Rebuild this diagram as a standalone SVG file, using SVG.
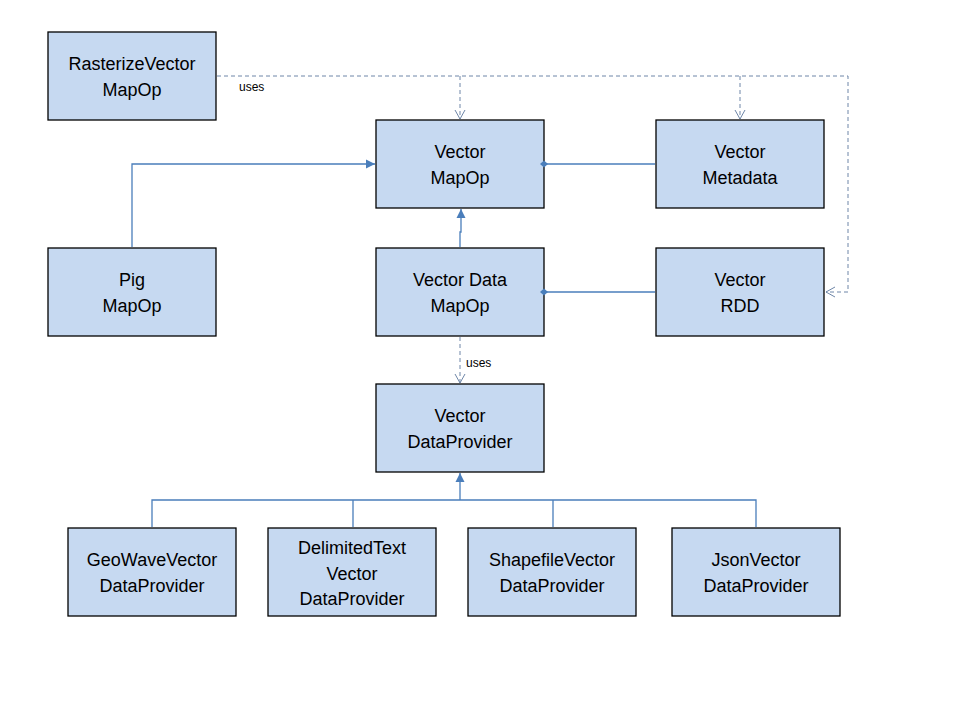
<svg xmlns="http://www.w3.org/2000/svg" width="960" height="720" viewBox="0 0 960 720">
<style>
.box{fill:#C6D9F1;stroke:#000;stroke-width:1.3}
.t{font-family:"Liberation Sans",Arial,sans-serif;font-size:18px;fill:#000;text-anchor:middle}
.s{font-family:"Liberation Sans",Arial,sans-serif;font-size:12px;fill:#000}
.c{fill:none;stroke:#4A7EBB;stroke-width:1.3}
.d{fill:none;stroke:#6E86A8;stroke-width:1;stroke-dasharray:4,3}
</style>
<defs>
<marker id="open" markerWidth="12" markerHeight="12" refX="10" refY="6" orient="auto" markerUnits="userSpaceOnUse">
<path d="M1,1 L10,6 L1,11" fill="none" stroke="#6E86A8" stroke-width="1"/>
</marker>
<marker id="fill" markerWidth="12" markerHeight="12" refX="10" refY="6" orient="auto" markerUnits="userSpaceOnUse">
<path d="M1,1.5 L10,6 L1,10.5 Z" fill="#4A7EBB"/>
</marker>
<marker id="dot" markerWidth="10" markerHeight="10" refX="5" refY="5" orient="auto" markerUnits="userSpaceOnUse">
<path d="M1,5 L5,1.5 L9,5 L5,8.5 Z" fill="#4A7EBB"/>
</marker>
</defs>
<rect width="960" height="720" fill="#fff"/>
<g id="RasterizeVectorMapOp"><rect class="box" x="48" y="32" width="168" height="88"/><text class="t" x="132" y="70">RasterizeVector</text><text class="t" x="132" y="96">MapOp</text></g>
<g id="VectorMapOp"><rect class="box" x="376" y="120" width="168" height="88"/><text class="t" x="460" y="158">Vector</text><text class="t" x="460" y="184">MapOp</text></g>
<g id="VectorMetadata"><rect class="box" x="656" y="120" width="168" height="88"/><text class="t" x="740" y="158">Vector</text><text class="t" x="740" y="184">Metadata</text></g>
<g id="PigMapOp"><rect class="box" x="48" y="248" width="168" height="88"/><text class="t" x="132" y="286">Pig</text><text class="t" x="132" y="312">MapOp</text></g>
<g id="VectorDataMapOp"><rect class="box" x="376" y="248" width="168" height="88"/><text class="t" x="460" y="286">Vector Data</text><text class="t" x="460" y="312">MapOp</text></g>
<g id="VectorRDD"><rect class="box" x="656" y="248" width="168" height="88"/><text class="t" x="740" y="286">Vector</text><text class="t" x="740" y="312">RDD</text></g>
<g id="VectorDataProvider"><rect class="box" x="376" y="384" width="168" height="88"/><text class="t" x="460" y="422">Vector</text><text class="t" x="460" y="448">DataProvider</text></g>
<g id="GeoWaveVectorDataProvider"><rect class="box" x="68" y="528" width="168" height="88"/><text class="t" x="152" y="566">GeoWaveVector</text><text class="t" x="152" y="592">DataProvider</text></g>
<g id="DelimitedTextVectorDataProvider"><rect class="box" x="268" y="528" width="168" height="88"/><text class="t" x="352" y="554">DelimitedText</text><text class="t" x="352" y="580">Vector</text><text class="t" x="352" y="605">DataProvider</text></g>
<g id="ShapefileVectorDataProvider"><rect class="box" x="468" y="528" width="168" height="88"/><text class="t" x="552" y="566">ShapefileVector</text><text class="t" x="552" y="592">DataProvider</text></g>
<g id="JsonVectorDataProvider"><rect class="box" x="672" y="528" width="168" height="88"/><text class="t" x="756" y="566">JsonVector</text><text class="t" x="756" y="592">DataProvider</text></g>
<g id="connectors">
<path class="d" d="M217,76 H848 V292 H826" marker-end="url(#open)"/>
<path class="d" d="M460,76 V119" marker-end="url(#open)"/>
<path class="d" d="M740,76 V119" marker-end="url(#open)"/>
<text class="s" x="239" y="91">uses</text>
<path class="c" d="M655,164 H544" marker-end="url(#dot)"/>
<path class="c" d="M655,292 H544" marker-end="url(#dot)"/>
<path class="c" d="M132,247 V164 H375" marker-end="url(#fill)"/>
<path class="c" d="M460,247 V232 H461 V209" marker-end="url(#fill)"/>
<path class="d" d="M460,337 V383" marker-end="url(#open)"/>
<text class="s" x="466" y="367">uses</text>
<path class="c" d="M152,527 V500 H756 V527 M353,500 V527 M553,500 V527"/>
<path class="c" d="M460,500 V473" marker-end="url(#fill)"/>
</g>
</svg>
